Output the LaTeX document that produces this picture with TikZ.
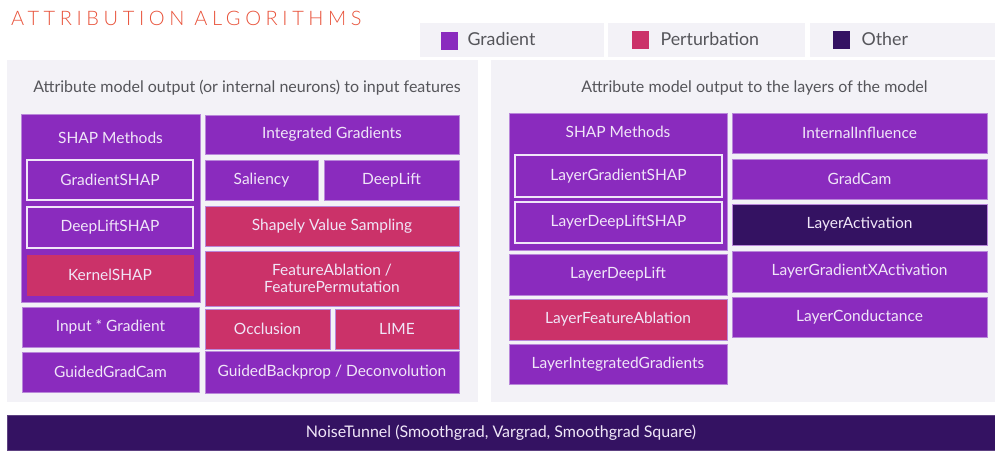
\documentclass[tikz,border=0pt]{standalone}
\usepackage{fontspec}
\setmainfont{Lato}
\newfontfamily\titlefont[LetterSpace=23, UprightFont={* Light}]{Lato}
\usepackage{tikz}
\usepackage{xcolor}
\definecolor{gradpurple}{RGB}{138, 43, 190}
\definecolor{pertpink}{RGB}{203, 50, 105}
\definecolor{otherdark}{RGB}{52, 18, 98}
\definecolor{panelgray}{RGB}{243, 242, 247}
\definecolor{titleorange}{RGB}{232, 82, 58}
\definecolor{edgelilac}{RGB}{185, 135, 218}
\definecolor{boxtext}{RGB}{240, 230, 248}
\definecolor{headgray}{RGB}{85, 85, 90}

\begin{document}
\begin{tikzpicture}[x=1pt, y=-1pt,
    panel/.style={fill=panelgray, inner sep=0pt},
    algo/.style={draw=edgelilac, line width=0.6pt, text=boxtext, inner sep=0pt, align=center, font=\fontsize{15.5}{17.5}\selectfont},
    grad/.style={algo, fill=gradpurple},
    pert/.style={algo, fill=pertpink},
    other/.style={algo, fill=otherdark},
    shapinner/.style={grad, draw=boxtext, line width=1.1pt},
    heading/.style={text=headgray, font=\fontsize{16}{18}\selectfont},
    legendtext/.style={text=headgray, anchor=west, font=\fontsize{17.8}{20}\selectfont}]
    \useasboundingbox (0,0) rectangle (995,450);

    % Title
    \node[anchor=west, text=titleorange, inner sep=0pt, font=\titlefont\fontsize{20}{22}\selectfont] (title) at (11,18) {ATTRIBUTION ALGORITHMS};

    % Legend
    \node[panel, minimum width=184, minimum height=34] (legGrad) at (512,40) {};
    \node[panel, minimum width=197, minimum height=34] (legPert) at (706.5,40) {};
    \node[panel, minimum width=185, minimum height=34] (legOther) at (902.5,40) {};
    \node[fill=gradpurple, minimum width=17, minimum height=18, inner sep=0pt] (swGrad) at (449.5,41) {};
    \node[fill=pertpink, minimum width=17, minimum height=18, inner sep=0pt] (swPert) at (640,40) {};
    \node[fill=otherdark, minimum width=17, minimum height=18, inner sep=0pt] (swOther) at (841.5,40) {};
    \node[legendtext] (txGrad) at (464,39) {Gradient};
    \node[legendtext] (txPert) at (657,39) {Perturbation};
    \node[legendtext] (txOther) at (858,39) {Other};

    % Panels
    \node[panel, minimum width=471, minimum height=342] (leftPanel) at (242.5,231) {};
    \node[panel, minimum width=504, minimum height=342] (rightPanel) at (743,231) {};
    \node[heading] (leftHead) at (247,88) {Attribute model output (or internal neurons) to input features};
    \node[heading] (rightHead) at (754.5,88) {Attribute model output to the layers of the model};

    % Input features: SHAP group
    \node[grad, minimum width=179, minimum height=188] (shapL) at (110.5,208) {};
    \node[text=boxtext, font=\fontsize{15.5}{17.5}\selectfont] (shapLTitle) at (110.5,138) {SHAP Methods};
    \node[shapinner, minimum width=166, minimum height=40] (gradShap) at (110,180) {GradientSHAP};
    \node[shapinner, minimum width=166, minimum height=41] (deepShap) at (110,227.5) {DeepLiftSHAP};
    \node[pert, draw=pertpink, minimum width=166, minimum height=40] (kernelShap) at (110,275) {KernelSHAP};

    % Input features: left column
    \node[grad, minimum width=177, minimum height=40] (inputGrad) at (110.5,327) {Input * Gradient};
    \node[grad, minimum width=177, minimum height=40] (guidedGradCam) at (110.5,372) {GuidedGradCam};

    % Input features: right column
    \node[grad, minimum width=254, minimum height=39] (intGrad) at (332,134.5) {Integrated Gradients};
    \node[grad, minimum width=113, minimum height=40] (saliency) at (261.5,180) {Saliency};
    \node[grad, minimum width=135, minimum height=40] (deepLift) at (391.5,180) {DeepLift};
    \node[pert, minimum width=254, minimum height=40] (shapley) at (332,226) {Shapely Value Sampling};
    \node[pert, minimum width=254, minimum height=55] (featAbl) at (332,278.5) {FeatureAblation /\\FeaturePermutation};
    \node[pert, minimum width=125, minimum height=40] (occlusion) at (267.5,329) {Occlusion};
    \node[pert, minimum width=124, minimum height=40] (lime) at (397,329) {LIME};
    \node[grad, minimum width=254, minimum height=42] (guidedBp) at (332,372) {GuidedBackprop / Deconvolution};

    % Layers: SHAP group
    \node[grad, minimum width=218, minimum height=137] (shapR) at (618,181.5) {};
    \node[text=boxtext, font=\fontsize{15.5}{17.5}\selectfont] (shapRTitle) at (618,132) {SHAP Methods};
    \node[shapinner, minimum width=207, minimum height=42] (layerGradShap) at (618.5,176) {LayerGradientSHAP};
    \node[shapinner, minimum width=207, minimum height=41] (layerDeepShap) at (618.5,222.5) {LayerDeepLiftSHAP};

    % Layers: left column
    \node[grad, minimum width=218, minimum height=41] (layerDeepLift) at (618,274.5) {LayerDeepLift};
    \node[pert, minimum width=218, minimum height=41] (layerFeatAbl) at (618,319.5) {LayerFeatureAblation};
    \node[grad, minimum width=218, minimum height=40] (layerIntGrad) at (618,364) {LayerIntegratedGradients};

    % Layers: right column
    \node[grad, minimum width=255, minimum height=40] (internalInf) at (859.5,133) {InternalInfluence};
    \node[grad, minimum width=255, minimum height=40] (gradCam) at (859.5,179) {GradCam};
    \node[other, minimum width=255, minimum height=41] (layerAct) at (859.5,224.5) {LayerActivation};
    \node[grad, minimum width=255, minimum height=41] (layerGxA) at (859.5,271.5) {LayerGradientXActivation};
    \node[grad, minimum width=255, minimum height=40] (layerCond) at (859.5,317) {LayerConductance};

    % Noise tunnel bar
    \node[fill=otherdark, draw=otherdark!80!white, line width=0.6pt, text=boxtext, inner sep=0pt, minimum width=988, minimum height=35, font=\fontsize{16}{18}\selectfont] (noiseTunnel) at (501,432.5) {NoiseTunnel (Smoothgrad, Vargrad, Smoothgrad Square)};
\end{tikzpicture}
\end{document}
